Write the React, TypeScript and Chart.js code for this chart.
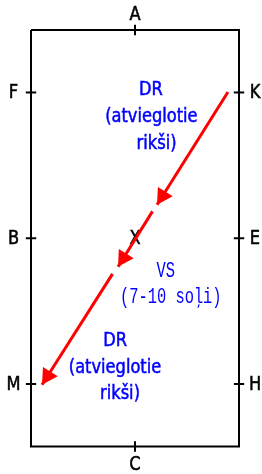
import React, { useEffect, useRef } from "react";
import { Chart, registerables } from "chart.js";

Chart.register(...registerables);

// Arena outline (metres, 20 x 40 dressage arena)
const arenaX = [0, 20, 20, 0, 0];
const arenaY = [0, 0, 40, 40, 0];

// Markers around the arena
const markerLetters = ["A", "F", "K", "B", "E", "M", "H", "C"];
const markerX = [10, 0, 20, 0, 20, 0, 20, 10];
const markerY = [0, 6, 6, 20, 20, 34, 34, 40];
const markerSide = ["top", "left", "right", "left", "right", "left", "right", "bottom"];

// Centre point
const centreLabel = "X";
const centreX = 10;
const centreY = 20;

// Red path segments (each ends in an arrowhead)
const segStartX = [18.94, 11.68, 7.84];
const segStartY = [5.95, 17.42, 23.42];
const segEndX = [12.12, 8.37, 1.06];
const segEndY = [16.79, 22.74, 34.07];

// Annotations
const noteText = ["DR", "(atvieglotie", "rikši)", "VS", "(7-10 soļi)", "DR", "(atvieglotie", "rikši)"];
const noteX = [11.52, 11.57, 12.07, 12.96, 13.44, 8.08, 8.08, 8.56];
const noteY = [5.69, 8.22, 10.83, 23.08, 25.53, 29.75, 32.35, 34.9];
const noteMono = [false, false, false, true, true, false, false, false];

const SANS = '19px "DejaVu Sans Condensed", "DejaVu Sans", sans-serif';
const SANS_SCALE_X = 0.95;
const MONO = '22px "Liberation Mono", monospace';
const MONO_SCALE_X = 0.7;

export default function App() {
  const ref = useRef<HTMLCanvasElement | null>(null);

  useEffect(() => {
    if (!ref.current) return;

    const tickHalf = 0.5;
    const datasets: any[] = [];
    datasets.push({
      data: arenaX.map((x, i) => ({ x, y: arenaY[i] })),
      showLine: true,
      borderColor: "#000",
      borderWidth: 2,
      pointRadius: 0,
      borderJoinStyle: "miter",
      clip: false,
    });
    markerLetters.forEach((_, i) => {
      const vertical = markerSide[i] === "top" || markerSide[i] === "bottom";
      const x = markerX[i];
      const y = markerY[i];
      const pts = vertical
        ? [{ x, y: y - tickHalf }, { x, y: y + tickHalf }]
        : [{ x: x - tickHalf, y }, { x: x + tickHalf, y }];
      datasets.push({
        data: pts,
        showLine: true,
        borderColor: "#000",
        borderWidth: 2,
        pointRadius: 0,
        clip: false,
      });
    });
    segStartX.forEach((sx, i) => {
      datasets.push({
        data: [
          { x: sx, y: segStartY[i] },
          { x: segEndX[i], y: segEndY[i] },
        ],
        showLine: true,
        borderColor: "#ff0000",
        borderWidth: 3,
        pointRadius: 0,
        borderCapStyle: "butt",
        clip: false,
      });
    });

    const drawText = (ctx: any, t: string, px: number, py: number, font: string, sx: number, heavy: boolean) => {
      ctx.save();
      ctx.font = font;
      ctx.translate(px, py);
      ctx.scale(sx, 1);
      ctx.fillText(t, 0, 0);
      if (heavy) {
        ctx.lineWidth = 0.5;
        ctx.strokeStyle = ctx.fillStyle;
        ctx.strokeText(t, 0, 0);
      }
      ctx.restore();
    };

    const textPlugin = {
      id: "arenaText",
      beforeDatasetsDraw(chart: any) {
        const { ctx, scales } = chart;
        const xs = scales.x;
        const ys = scales.y;
        ctx.save();
        ctx.fillStyle = "#000";
        ctx.textAlign = "center";
        ctx.textBaseline = "middle";
        markerLetters.forEach((l, i) => {
          let px = xs.getPixelForValue(markerX[i]);
          let py = ys.getPixelForValue(markerY[i]);
          const side = markerSide[i];
          if (side === "top") py -= 16;
          if (side === "bottom") py += 18;
          if (side === "left") px -= 17.5;
          if (side === "right") px += 16;
          drawText(ctx, l, px, py + 1, SANS, SANS_SCALE_X, true);
        });
        drawText(ctx, centreLabel, xs.getPixelForValue(centreX), ys.getPixelForValue(centreY) + 1, SANS, SANS_SCALE_X, true);
        ctx.fillStyle = "#0000ff";
        noteText.forEach((t, i) => {
          const px = xs.getPixelForValue(noteX[i]);
          const py = ys.getPixelForValue(noteY[i]);
          if (noteMono[i]) drawText(ctx, t, px, py + 1, MONO, MONO_SCALE_X, false);
          else drawText(ctx, t, px, py + 1, SANS, SANS_SCALE_X, true);
        });
        ctx.restore();
      },
      afterDatasetsDraw(chart: any) {
        const { ctx, scales } = chart;
        const xs = scales.x;
        const ys = scales.y;
        ctx.save();
        ctx.fillStyle = "#ff0000";
        segStartX.forEach((sx, i) => {
          const x0 = xs.getPixelForValue(sx);
          const y0 = ys.getPixelForValue(segStartY[i]);
          const x1 = xs.getPixelForValue(segEndX[i]);
          const y1 = ys.getPixelForValue(segEndY[i]);
          const dx = x1 - x0;
          const dy = y1 - y0;
          const len = Math.hypot(dx, dy);
          const ux = dx / len;
          const uy = dy / len;
          const L = 15.5;
          const W = 17.5;
          const bx = x1 - ux * L;
          const by = y1 - uy * L;
          ctx.beginPath();
          ctx.moveTo(x1, y1);
          ctx.lineTo(bx - uy * W / 2, by + ux * W / 2);
          ctx.lineTo(bx + uy * W / 2, by - ux * W / 2);
          ctx.closePath();
          ctx.fill();
        });
        ctx.restore();
      },
    };

    const chart = new Chart(ref.current, {
      type: "scatter",
      data: { datasets },
      options: {
        animation: false,
        responsive: false,
        maintainAspectRatio: false,
        layout: { padding: { left: 31, right: 23, top: 30, bottom: 27.5 } },
        scales: {
          x: { type: "linear", min: 0, max: 20, display: false },
          y: { type: "linear", min: 0, max: 40, reverse: true, display: false },
        },
        plugins: { legend: { display: false }, tooltip: { enabled: false } },
      },
      plugins: [textPlugin],
    } as any);

    return () => chart.destroy();
  }, []);

  return (
    <div style={{ position: "absolute", left: 0, top: 0, width: 262, height: 474, background: "#fff" }}>
      <canvas ref={ref} width={262} height={474} />
    </div>
  );
}
